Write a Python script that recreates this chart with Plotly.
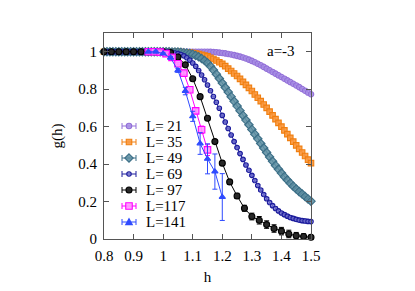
import plotly.graph_objects as go

# ---------------- data ----------------
h_fine = [0.80, 0.81, 0.82, 0.83, 0.84, 0.85, 0.86, 0.87, 0.88, 0.89,
          0.90, 0.91, 0.92, 0.93, 0.94, 0.95, 0.96, 0.97, 0.98, 0.99,
          1.00, 1.01, 1.02, 1.03, 1.04, 1.05, 1.06, 1.07, 1.08, 1.09,
          1.10, 1.11, 1.12, 1.13, 1.14, 1.15, 1.16, 1.17, 1.18, 1.19,
          1.20, 1.21, 1.22, 1.23, 1.24, 1.25, 1.26, 1.27, 1.28, 1.29,
          1.30, 1.31, 1.32, 1.33, 1.34, 1.35, 1.36, 1.37, 1.38, 1.39,
          1.40, 1.41, 1.42, 1.43, 1.44, 1.45, 1.46, 1.47, 1.48, 1.49,
          1.50]

g_L21 = [1.0, 1.0, 1.0, 1.0, 1.0, 1.0, 1.0, 1.0, 1.0, 1.0,
         1.0, 1.0, 1.0, 1.0, 1.0, 1.0, 1.0, 1.0, 1.0, 1.0,
         1.0, 1.0, 1.0, 1.0, 1.0, 1.0, 1.0, 1.0, 1.0, 1.0,
         1.0, 1.0, 1.0, 1.0, 1.0, 1.0, 0.999, 0.998, 0.997, 0.995,
         0.993, 0.991, 0.988, 0.985, 0.982, 0.978, 0.974, 0.969, 0.964, 0.958,
         0.951, 0.944, 0.936, 0.928, 0.919, 0.910, 0.901, 0.892, 0.883, 0.874,
         0.865, 0.856, 0.847, 0.838, 0.829, 0.820, 0.811, 0.801, 0.792, 0.782,
         0.773]

g_L35 = [1.0, 1.0, 1.0, 1.0, 1.0, 1.0, 1.0, 1.0, 1.0, 1.0,
         1.0, 1.0, 1.0, 1.0, 1.0, 1.0, 1.0, 1.0, 1.0, 1.0,
         1.0, 1.0, 1.0, 1.0, 0.999, 0.999, 0.998, 0.997, 0.996, 0.995,
         0.993, 0.990, 0.987, 0.984, 0.980, 0.975, 0.968, 0.961, 0.953, 0.944,
         0.935, 0.923, 0.910, 0.897, 0.884, 0.870, 0.855, 0.839, 0.823, 0.807,
         0.790, 0.772, 0.754, 0.736, 0.718, 0.700, 0.680, 0.660, 0.640, 0.620,
         0.600, 0.580, 0.560, 0.540, 0.520, 0.500, 0.481, 0.462, 0.443, 0.424,
         0.405]

g_L49 = [1.0, 1.0, 1.0, 1.0, 1.0, 1.0, 1.0, 1.0, 1.0, 1.0,
         1.0, 1.0, 1.0, 1.0, 1.0, 1.0, 1.0, 1.0, 1.0, 1.0,
         1.0, 1.0, 1.0, 0.999, 0.999, 0.998, 0.997, 0.995, 0.993, 0.990,
         0.986, 0.980, 0.973, 0.964, 0.953, 0.940, 0.922, 0.902, 0.880, 0.857,
         0.833, 0.809, 0.785, 0.760, 0.735, 0.710, 0.685, 0.660, 0.635, 0.610,
         0.585, 0.560, 0.535, 0.510, 0.486, 0.462, 0.438, 0.415, 0.393, 0.372,
         0.352, 0.333, 0.315, 0.298, 0.282, 0.267, 0.253, 0.240, 0.227, 0.214,
         0.202]

g_L69 = [1.0, 1.0, 1.0, 1.0, 1.0, 1.0, 1.0, 1.0, 1.0, 1.0,
         1.0, 1.0, 1.0, 1.0, 1.0, 1.0, 1.0, 1.0, 1.0, 1.0,
         1.0, 0.999, 0.998, 0.996, 0.993, 0.990, 0.985, 0.978, 0.968, 0.955,
         0.940, 0.922, 0.900, 0.876, 0.850, 0.822, 0.792, 0.761, 0.730, 0.698,
         0.660, 0.625, 0.590, 0.555, 0.520, 0.488, 0.456, 0.425, 0.395, 0.367,
         0.340, 0.312, 0.286, 0.262, 0.238, 0.215, 0.195, 0.178, 0.163, 0.150,
         0.139, 0.130, 0.122, 0.115, 0.110, 0.105, 0.101, 0.098, 0.096, 0.094,
         0.093]

e_L69 = [0, 0, 0, 0, 0, 0, 0, 0, 0, 0,
         0, 0, 0, 0, 0, 0, 0, 0, 0, 0,
         0, 0, 0, 0, 0, 0, 0, 0, 0, 0,
         0, 0, 0, 0, 0, 0, 0, 0, 0, 0,
         0.002, 0.002, 0.002, 0.003, 0.003, 0.003, 0.003, 0.004, 0.004, 0.004,
         0.004, 0.005, 0.005, 0.005, 0.005, 0.006, 0.006, 0.006, 0.007, 0.007,
         0.007, 0.008, 0.008, 0.008, 0.009, 0.009, 0.009, 0.010, 0.010, 0.010,
         0.010]

h_L97 = [0.800, 0.825, 0.850, 0.875, 0.900, 0.925, 0.950, 0.975, 1.000,
         1.025, 1.050, 1.075, 1.100, 1.125, 1.150, 1.175, 1.200, 1.225,
         1.250, 1.275, 1.300, 1.325, 1.350, 1.375, 1.400, 1.425, 1.450,
         1.475, 1.500]
g_L97 = [1.0, 1.0, 1.0, 1.0, 1.0, 1.0, 1.0, 1.0, 1.0,
         0.995, 0.972, 0.930, 0.856, 0.760, 0.645, 0.520, 0.405, 0.305,
         0.230, 0.164, 0.120, 0.100, 0.077, 0.056, 0.042, 0.027, 0.017,
         0.013, 0.009]
e_L97 = [0.002, 0.002, 0.002, 0.002, 0.002, 0.002, 0.002, 0.002, 0.002,
         0.003, 0.004, 0.005, 0.006, 0.007, 0.008, 0.009, 0.010, 0.012,
         0.014, 0.016, 0.018, 0.020, 0.020, 0.020, 0.020, 0.020, 0.018,
         0.015, 0.012]

h_L117 = [0.95, 0.97, 0.99, 1.01, 1.03, 1.05, 1.07, 1.09, 1.11, 1.13, 1.15]
g_L117 = [1.0, 1.0, 0.998, 0.990, 0.970, 0.936, 0.886, 0.797, 0.684, 0.583, 0.476]
e_L117 = [0.002, 0.002, 0.003, 0.004, 0.005, 0.006, 0.008, 0.010, 0.012, 0.020, 0.030]

h_L141 = [0.950, 0.975, 1.000, 1.025, 1.050, 1.075, 1.100, 1.125, 1.150, 1.175, 1.200]
g_L141 = [1.0, 1.0, 0.990, 0.968, 0.900, 0.790, 0.655, 0.510, 0.428, 0.360, 0.224]
e_L141 = [0.002, 0.003, 0.004, 0.006, 0.010, 0.020, 0.027, 0.058, 0.080, 0.094, 0.125]

labels = ["L= 21", "L= 35", "L= 49", "L= 69", "L= 97", "L=117", "L=141"]

# ---------------- geometry ----------------
FONT = "Liberation Serif"
W, H = 415, 291
OFF = 8                      # page body margin offset of the plot div
PL, PR, PT, PB = 104, 311, 33, 239   # wanted plot box in window pixels
ML = PL - OFF
MT = PT - OFF
PW, PH = PR - PL, PB - PT
MR = W - ML - PW
MB = H - MT - PH

styles = [
    # color, symbol, size, fill
    ("#9370d8", "circle", 5.5, "rgba(165,140,228,0.85)"),
    ("#f07f10", "square", 5.5, "rgba(250,150,60,0.9)"),
    ("#3c6f87", "diamond", 6.5, "rgba(90,140,160,0.85)"),
    ("#1c1c9c", "circle", 4.5, "rgba(120,120,210,0.8)"),
    ("#000000", "circle", 6, "rgba(40,40,40,1)"),
    ("#ff00ff", "square", 6.5, "rgba(255,150,255,0.9)"),
    ("#2f4bff", "triangle-up", 5.5, "rgba(47,75,255,1)"),
]

series = [
    (h_fine, g_L21, None),
    (h_fine, g_L35, None),
    (h_fine, g_L49, None),
    (h_fine, g_L69, e_L69),
    (h_L97, g_L97, e_L97),
    (h_L117, g_L117, e_L117),
    (h_L141, g_L141, e_L141),
]

fig = go.Figure()
for (x, y, err), (color, symbol, size, fill), name in zip(series, styles, labels):
    tr = dict(x=x, y=y, name=name, mode="lines+markers",
              line=dict(color=color, width=1),
              marker=dict(symbol=symbol, size=size, color=fill,
                          line=dict(color=color, width=1.1)),
              cliponaxis=False, showlegend=False)
    if err is not None:
        tr["error_y"] = dict(type="data", array=err, visible=True,
                             color=color, thickness=1, width=2.5)
    fig.add_trace(go.Scatter(**tr))

# ---------------- custom legend (gnuplot style) ----------------
shapes = []
annotations = []
LEG_X_PX = 129          # sample centre (window px)
LEG_TXT_PX = 144        # text left
LEG_TOP_PX = 126        # first row centre
LEG_ROW = 16
ax = (LEG_X_PX - PL) / PW
tx = (LEG_TXT_PX - PL) / PW


def marker_shape(sym, col, fill, ay, r):
    base = dict(xref="paper", yref="paper", xsizemode="pixel", ysizemode="pixel",
                xanchor=ax, yanchor=ay, line=dict(color=col, width=1.1),
                fillcolor=fill, layer="above")
    if sym == "circle":
        return dict(type="circle", x0=-r, x1=r, y0=-r, y1=r, **base)
    if sym == "square":
        return dict(type="rect", x0=-r, x1=r, y0=-r, y1=r, **base)
    if sym == "diamond":
        rr = r * 1.3
        return dict(type="path",
                    path=f"M 0,{rr} L {rr},0 L 0,{-rr} L {-rr},0 Z", **base)
    rr = r * 1.2
    return dict(type="path",
                path=f"M {-rr},{-rr*0.8} L {rr},{-rr*0.8} L 0,{rr} Z", **base)


for i, ((color, symbol, size, fill), name) in enumerate(zip(styles, labels)):
    py = LEG_TOP_PX + i * LEG_ROW
    ay = (PB - py) / PH
    common = dict(xref="paper", yref="paper", xsizemode="pixel",
                  ysizemode="pixel", xanchor=ax, yanchor=ay,
                  line=dict(color=color, width=1), layer="above")
    shapes.append(dict(type="line", x0=-7, x1=7, y0=0, y1=0, **common))
    shapes.append(dict(type="line", x0=-7, x1=-7, y0=-3, y1=3, **common))
    shapes.append(dict(type="line", x0=7, x1=7, y0=-3, y1=3, **common))
    shapes.append(marker_shape(symbol, color, fill, ay, size / 2.0))
    annotations.append(dict(text=name, xref="paper", yref="paper", x=tx, y=ay,
                            xanchor="left", yanchor="middle", showarrow=False,
                            font=dict(family=FONT, size=15, color="#000000")))

annotations.append(dict(text="a=-3", xref="paper", yref="paper",
                        x=(281 - PL) / PW, y=(PB - 51) / PH,
                        xanchor="center", yanchor="middle", showarrow=False,
                        font=dict(family=FONT, size=15, color="#000000")))

axis_common = dict(showline=True, linecolor="#555555", linewidth=1,
                   mirror="ticks", ticks="inside", ticklen=5,
                   tickcolor="#555555", showgrid=False, zeroline=False,
                   automargin=False,
                   tickfont=dict(family=FONT, size=15, color="#000000"))

fig.update_layout(
    width=W, height=H,
    margin=dict(l=ML, r=MR, t=MT, b=MB, autoexpand=False),
    paper_bgcolor="white", plot_bgcolor="white",
    font=dict(family=FONT, size=15, color="#000000"),
    xaxis=dict(range=[0.8, 1.5], dtick=0.1, tick0=0.8, ticklabelstandoff=3,
               title=dict(text="h", font=dict(family=FONT, size=15),
                          standoff=8),
               **axis_common),
    yaxis=dict(range=[0, 1.1], dtick=0.2, tick0=0, ticklabelstandoff=3,
               title=dict(text="g(h)", font=dict(family=FONT, size=15),
                          standoff=12),
               **axis_common),
    showlegend=False,
    shapes=shapes,
    annotations=annotations,
)

fig.write_html("out.html")
